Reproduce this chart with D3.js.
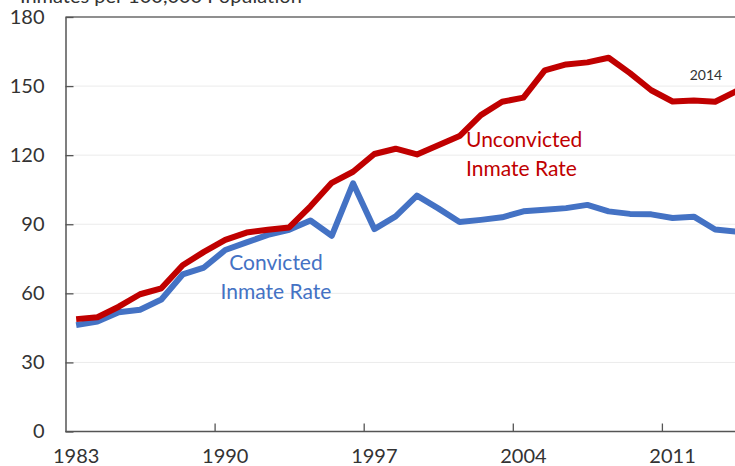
<!DOCTYPE html>
<html>
<head>
<meta charset="utf-8">
<script src="https://cdn.jsdelivr.net/npm/d3@7"></script>
<style>
  html, body { margin: 0; padding: 0; background: #fff; overflow: hidden; }
  svg { display: block; font-family: Lato, "Open Sans", sans-serif; }
</style>
</head>
<body>
<svg id="chart" width="735" height="466"></svg>
<script>
const years = d3.range(1983, 2015);
const unconvicted = [48.8, 49.6, 54.2, 59.6, 62.2, 72.2, 78.0, 83.2, 86.4, 87.6, 88.6, 97.8, 108.0, 112.8,
  120.5, 122.8, 120.3, 124.3, 128.3, 137.4, 143.2, 145.0, 156.8, 159.4, 160.3, 162.3, 155.6, 148.2,
  143.3, 143.7, 143.2, 147.8];
const convicted = [46.2, 47.8, 51.8, 52.9, 57.3, 68.2, 71.2, 78.8, 82.1, 85.4, 87.6, 91.6, 85.0, 107.8,
  87.9, 93.4, 102.4, 96.9, 91.0, 91.9, 93.0, 95.6, 96.3, 97.0, 98.4, 95.6, 94.5, 94.3,
  92.7, 93.3, 87.7, 86.8];
const yTicks = [0, 30, 60, 90, 120, 150, 180];
const xLabelYears = [1983, 1990, 1997, 2004, 2011];
const yTitle = "Inmates per 100,000 Population";

const svg = d3.select("#chart");
const plotLeft = 65.5, plotTop = 17, plotBottom = 431.5, step = 21.3;

const x = d3.scaleLinear().domain([1982.5, 2014.5]).range([plotLeft, plotLeft + 32 * step]);
const y = d3.scaleLinear().domain([0, 180]).range([plotBottom, plotTop]);

// gridlines
svg.append("g").selectAll("line").data(yTicks.filter(v => v > 0 && v < 180)).join("line")
  .attr("x1", plotLeft).attr("x2", 735).attr("y1", d => y(d)).attr("y2", d => y(d))
  .attr("stroke", "#ebebeb").attr("stroke-width", 1);
// top border
svg.append("line").attr("x1", plotLeft).attr("x2", 735).attr("y1", y(180)).attr("y2", y(180))
  .attr("stroke", "#6a6a6a").attr("stroke-width", 1.3);

// y axis
const yAxis = d3.axisLeft(y).tickValues(yTicks).tickSizeInner(-8).tickSizeOuter(0).tickPadding(21);
const gy = svg.append("g").attr("transform", `translate(${plotLeft},0)`).call(yAxis);
gy.select(".domain").attr("stroke", "#555").attr("stroke-width", 1.5);
gy.selectAll(".tick line").attr("stroke", "#555").attr("stroke-width", 1.3);
gy.selectAll(".tick text").attr("font-size", 20).attr("fill", "#333")
  .attr("font-family", "Lato, 'Open Sans', sans-serif");

// x axis: tick marks at category boundaries
const xAxis = d3.axisBottom(x).tickValues(xLabelYears.slice(1).map(v => v - 0.5))
  .tickSizeInner(-8).tickSizeOuter(0).tickFormat("");
const gx = svg.append("g").attr("transform", `translate(0,${plotBottom})`).call(xAxis);
gx.select(".domain").attr("stroke", "#555").attr("stroke-width", 1.5)
  .attr("d", `M${plotLeft},0H735`);
gx.selectAll(".tick line").attr("stroke", "#555").attr("stroke-width", 1.3);

// x labels at category centers
svg.append("g").selectAll("text").data(xLabelYears).join("text")
  .attr("x", d => x(d)).attr("y", 463)
  .attr("text-anchor", "middle").attr("font-size", 20).attr("fill", "#333")
  .text(d => d);

// title (clipped at top)
svg.append("text").attr("x", 20).attr("y", 3).attr("font-size", 20).attr("fill", "#333").text(yTitle);

// lines
const line = d3.line().x((d, i) => x(years[i])).y(d => y(d));
svg.append("path").datum(convicted).attr("d", line)
  .attr("fill", "none").attr("stroke", "#4472C4").attr("stroke-width", 6).attr("stroke-linejoin", "round");
svg.append("path").datum(unconvicted).attr("d", line)
  .attr("fill", "none").attr("stroke", "#C00000").attr("stroke-width", 6).attr("stroke-linejoin", "round");

// annotations
const red = svg.append("text").attr("fill", "#C00000").attr("font-size", 21);
red.append("tspan").attr("x", 466).attr("y", 147).text("Unconvicted");
red.append("tspan").attr("x", 466).attr("y", 176).text("Inmate Rate");
const blue = svg.append("text").attr("fill", "#4472C4").attr("font-size", 21).attr("text-anchor", "middle");
blue.append("tspan").attr("x", 276).attr("y", 270).text("Convicted");
blue.append("tspan").attr("x", 276).attr("y", 299).text("Inmate Rate");
svg.append("text").attr("x", 706).attr("y", 80).attr("text-anchor", "middle")
  .attr("font-size", 14).attr("fill", "#333").text("2014");
</script>
</body>
</html>
